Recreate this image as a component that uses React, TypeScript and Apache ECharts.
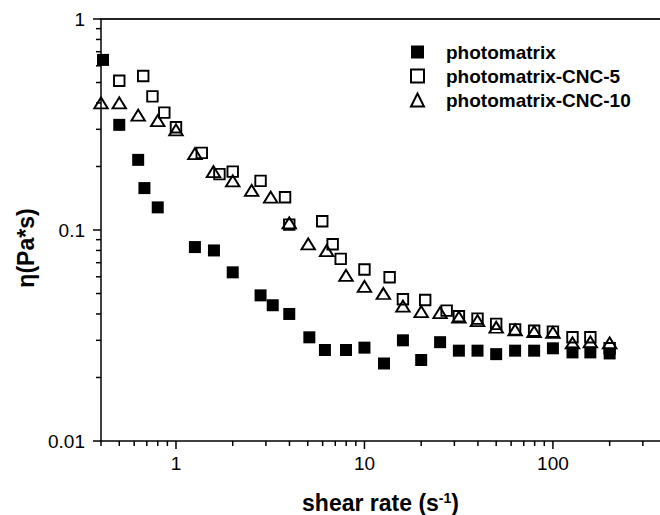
import React, { useEffect, useRef } from "react";
import * as echarts from "echarts";

const FONT = "'Liberation Sans', Arial, Helvetica, sans-serif";

const seriesNames = ["photomatrix", "photomatrix-CNC-5", "photomatrix-CNC-10"];

const xFilled = [0.41, 0.5, 0.63, 0.68, 0.8, 1.26, 1.59, 2.0, 2.81, 3.26, 3.99, 5.1, 6.17, 7.98, 10, 12.7, 16, 20, 25.2, 31.7, 39.8, 50, 63, 79.5, 100, 127, 158, 200];
const yFilled = [0.64, 0.315, 0.215, 0.158, 0.128, 0.083, 0.08, 0.063, 0.049, 0.044, 0.04, 0.031, 0.027, 0.027, 0.0277, 0.0233, 0.03, 0.0242, 0.0294, 0.0268, 0.0268, 0.0258, 0.0268, 0.0268, 0.0275, 0.0263, 0.0263, 0.026];

const xOpen = [0.5, 0.67, 0.75, 0.867, 1.0, 1.37, 1.7, 2.0, 2.81, 3.79, 3.99, 5.97, 6.78, 7.48, 10, 13.6, 16, 21, 27.3, 31.7, 39.8, 50, 63, 79.5, 100, 127, 158, 200];
const yOpen = [0.51, 0.537, 0.43, 0.36, 0.307, 0.232, 0.184, 0.189, 0.171, 0.143, 0.106, 0.11, 0.0856, 0.073, 0.065, 0.0597, 0.047, 0.0466, 0.0415, 0.039, 0.038, 0.0359, 0.0338, 0.0333, 0.033, 0.031, 0.031, 0.0275];

const xTri = [0.4, 0.5, 0.63, 0.8, 1.0, 1.26, 1.58, 2.0, 2.52, 3.18, 3.99, 5.03, 6.3, 7.98, 10, 12.6, 16, 20, 25.2, 31.7, 39.8, 50, 63, 79.5, 100, 127, 158, 200];
const yTri = [0.4, 0.4, 0.35, 0.33, 0.298, 0.23, 0.189, 0.171, 0.154, 0.143, 0.108, 0.086, 0.0798, 0.061, 0.054, 0.05, 0.0436, 0.041, 0.0406, 0.0386, 0.0372, 0.0346, 0.0336, 0.033, 0.0327, 0.0292, 0.0295, 0.0292];

const xMin = 0.4;
const xMax = 370;
const yMin = 0.01;
const yMax = 1;

const xMajorTicks = [1, 10, 100];
const xTickLabels = ["1", "10", "100"];
const xMinorTicks = [0.4, 0.5, 0.6, 0.7, 0.8, 0.9, 2, 3, 4, 5, 6, 7, 8, 9, 20, 30, 40, 50, 60, 70, 80, 90, 200, 300];
const yMajorTicks = [0.01, 0.1, 1];
const yTickLabels = ["0.01", "0.1", "1"];
const yMinorTicks = [0.02, 0.03, 0.04, 0.05, 0.06, 0.07, 0.08, 0.09, 0.2, 0.3, 0.4, 0.5, 0.6, 0.7, 0.8, 0.9];

const MAJOR_LEN = 8;
const MINOR_LEN = 5;

function labelFor(v: number, majors: number[], labels: string[]) {
  for (let i = 0; i < majors.length; i++) {
    if (Math.abs(Math.log10(v) - Math.log10(majors[i])) < 1e-6) return labels[i];
  }
  return "";
}

export default function App() {
  const ref = useRef<HTMLDivElement>(null);
  useEffect(() => {
    if (!ref.current) return;
    const chart = echarts.init(ref.current, undefined, { renderer: "svg" });

    const xTickData = [
      ...xMajorTicks.map((v) => [v, yMin, MAJOR_LEN]),
      ...xMinorTicks.map((v) => [v, yMin, MINOR_LEN]),
    ];
    const yTickData = [
      ...yMajorTicks.map((v) => [xMin, v, MAJOR_LEN]),
      ...yMinorTicks.map((v) => [xMin, v, MINOR_LEN]),
    ];

    const openStyle = { color: "rgba(0,0,0,0)", borderColor: "#000", borderWidth: 1.9, opacity: 1 };

    const option: any = {
      animation: false,
      backgroundColor: "#fff",
      grid: { left: 101, right: 0, top: 19, bottom: 74, outerBoundsMode: "none" },
      legend: {
        data: seriesNames,
        orient: "vertical",
        left: 405,
        top: 37,
        itemWidth: 13,
        itemHeight: 13,
        itemGap: 4,
        selectedMode: false,
        textStyle: {
          fontSize: 19,
          fontWeight: "bold",
          fontFamily: FONT,
          color: "#000",
          lineHeight: 20,
          padding: [0, 0, 0, 17],
        },
      },
      xAxis: [
        {
          type: "log",
          logBase: 10,
          min: xMin,
          max: xMax,
          position: "bottom",
          axisLine: { show: true, lineStyle: { color: "#000", width: 1.5 } },
          axisTick: { show: false },
          splitLine: { show: false },
          axisLabel: {
            margin: 13,
            fontSize: 19,
            fontFamily: FONT,
            color: "#000",
            showMinLabel: false,
            showMaxLabel: false,
            formatter: (v: number) => labelFor(v, xMajorTicks, xTickLabels),
          },
          name: "shear rate (s{sup|-1})",
          nameLocation: "middle",
          nameGap: 50,
          nameTextStyle: {
            fontSize: 23,
            fontWeight: "bold",
            fontFamily: FONT,
            color: "#000",
            rich: {
              sup: { fontSize: 14, fontWeight: "bold", fontFamily: FONT, color: "#000", verticalAlign: "top" },
            },
          },
        },
        {
          type: "log",
          logBase: 10,
          min: xMin,
          max: xMax,
          position: "top",
          axisLine: { show: true, lineStyle: { color: "#222", width: 2 } },
          axisTick: { show: false },
          axisLabel: { show: false },
          splitLine: { show: false },
        },
      ],
      yAxis: {
        type: "log",
        logBase: 10,
        min: yMin,
        max: yMax,
        axisLine: { show: true, lineStyle: { color: "#000", width: 1.5 } },
        axisTick: { show: false },
        splitLine: { show: false },
        axisLabel: {
          margin: 16,
          fontSize: 19,
          fontFamily: FONT,
          color: "#000",
          formatter: (v: number) => labelFor(v, yMajorTicks, yTickLabels),
        },
        name: "η(Pa*s)",
        nameLocation: "middle",
        nameGap: 64,
        nameRotate: 90,
        nameTextStyle: {
          fontSize: 23,
          fontWeight: "bold",
          fontFamily: FONT,
          color: "#000",
          padding: [0, 36, 0, 0],
        },
      },
      series: [
        {
          name: seriesNames[0],
          type: "scatter",
          symbol: "rect",
          symbolSize: 12,
          itemStyle: { color: "#000", opacity: 1 },
          data: xFilled.map((x, i) => [x, yFilled[i]]),
        },
        {
          name: seriesNames[1],
          type: "scatter",
          symbol: "rect",
          symbolSize: 10.5,
          itemStyle: openStyle,
          data: xOpen.map((x, i) => [x, yOpen[i]]),
        },
        {
          name: seriesNames[2],
          type: "scatter",
          symbol: "triangle",
          symbolSize: [13.5, 11],
          itemStyle: openStyle,
          data: xTri.map((x, i) => [x, yTri[i]]),
        },
        {
          name: "xticks",
          type: "custom",
          silent: true,
          clip: false,
          data: xTickData,
          renderItem: (params: any, api: any) => {
            const p = api.coord([api.value(0), api.value(1)]);
            const len = api.value(2);
            return {
              type: "line",
              shape: { x1: p[0], y1: p[1], x2: p[0], y2: p[1] + len },
              style: { stroke: "#000", lineWidth: 1.5 },
            };
          },
        },
        {
          name: "yticks",
          type: "custom",
          silent: true,
          clip: false,
          data: yTickData,
          renderItem: (params: any, api: any) => {
            const p = api.coord([api.value(0), api.value(1)]);
            const len = api.value(2);
            return {
              type: "line",
              shape: { x1: p[0] - len, y1: p[1], x2: p[0], y2: p[1] },
              style: { stroke: "#000", lineWidth: 1.5 },
            };
          },
        },
      ],
    };
    chart.setOption(option);
    return () => chart.dispose();
  }, []);
  return (
    <div
      ref={ref}
      style={{ position: "fixed", left: 0, top: 0, width: 660, height: 515, background: "#fff" }}
    />
  );
}
